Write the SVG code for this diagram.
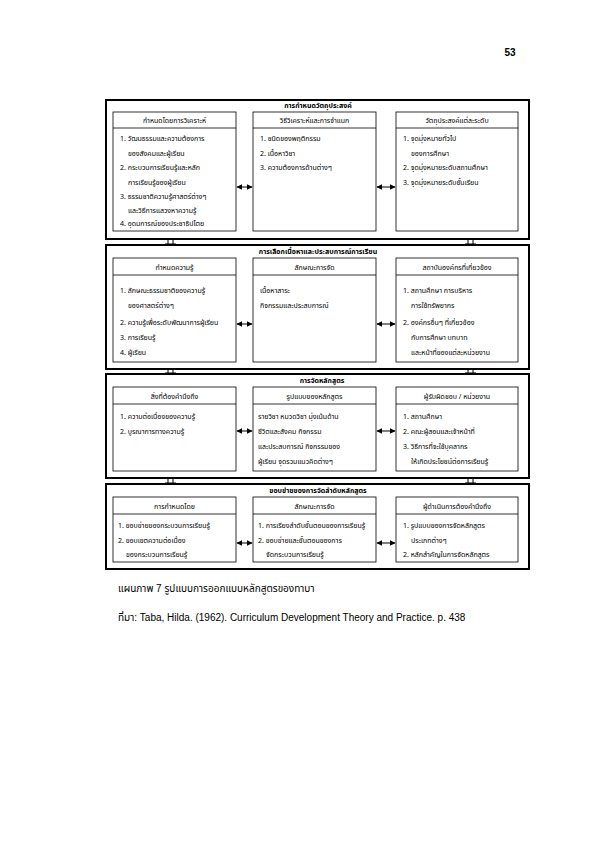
<svg xmlns="http://www.w3.org/2000/svg" width="595" height="842" viewBox="0 0 595 842">
<defs>
<style>
text{font-family:"Noto Sans Thai","Noto Sans","DejaVu Sans","Liberation Sans",sans-serif;fill:#000}
.sec{fill:#fff;stroke:#000;stroke-width:2}
.box{fill:#fff;stroke:#000;stroke-width:0.8}
.sep{stroke:#000;stroke-width:0.8}
.ttl{font-size:7px;font-weight:bold;text-anchor:middle}
.hdr{font-size:7px;text-anchor:middle}
.itm{font-size:7px}
.ar{stroke:#000;stroke-width:1;fill:none;marker-start:url(#ah);marker-end:url(#ah)}
.tk{stroke:#000;stroke-width:1;fill:none}
.cap{font-size:10px;font-family:"Liberation Sans","Noto Sans Thai",sans-serif}
</style>
<marker id="ah" viewBox="0 0 10 10" refX="9" refY="5" markerWidth="6" markerHeight="6" orient="auto-start-reverse" markerUnits="userSpaceOnUse"><path d="M0,0 L10,5 L0,10 z" fill="#000"/></marker>
</defs>
<rect width="595" height="842" fill="#fff"/>
<text x="510" y="56" style="font-size:10px;font-weight:bold;font-family:'Liberation Sans',sans-serif" text-anchor="middle">53</text>

<g id="sec1">
<rect class="sec" x="106" y="100" width="423" height="139"/>
<text class="ttl" x="318" y="108">การกำหนดวัตถุประสงค์</text>
</g>
<g id="s1b1">
<rect class="box" x="113" y="112" width="123" height="119"/><line class="sep" x1="113" y1="128" x2="236" y2="128"/>
<text class="hdr" x="174.5" y="123">กำหนดโดยการวิเคราะห์</text>
<text class="itm" x="120" y="141">1. วัฒนธรรมและความต้องการ</text>
<text class="itm" x="128" y="156">ของสังคมและผู้เรียน</text>
<text class="itm" x="120" y="170">2. กระบวนการเรียนรู้และหลัก</text>
<text class="itm" x="128" y="185">การเรียนรู้ของผู้เรียน</text>
<text class="itm" x="120" y="199">3. ธรรมชาติความรู้ศาสตร์ต่างๆ</text>
<text class="itm" x="128" y="213">และวิธีการแสวงหาความรู้</text>
<text class="itm" x="120" y="226">4. อุดมการณ์ของประชาธิปไตย</text>
</g>
<g id="s1b2">
<rect class="box" x="253" y="112" width="123" height="119"/><line class="sep" x1="253" y1="128" x2="376" y2="128"/>
<text class="hdr" x="314.5" y="123">วิธีวิเคราะห์และการจำแนก</text>
<text class="itm" x="260" y="141">1. ชนิดของพฤติกรรม</text>
<text class="itm" x="260" y="156">2. เนื้อหาวิชา</text>
<text class="itm" x="260" y="170">3. ความต้องการด้านต่างๆ</text>
</g>
<g id="s1b3">
<rect class="box" x="396" y="112" width="122" height="119"/><line class="sep" x1="396" y1="128" x2="518" y2="128"/>
<text class="hdr" x="457" y="123">วัตถุประสงค์แต่ละระดับ</text>
<text class="itm" x="403" y="141">1. จุดมุ่งหมายทั่วไป</text>
<text class="itm" x="411" y="156">ของการศึกษา</text>
<text class="itm" x="403" y="170">2. จุดมุ่งหมายระดับสถานศึกษา</text>
<text class="itm" x="403" y="185">3. จุดมุ่งหมายระดับชั้นเรียน</text>
</g>

<g id="sec2">
<rect class="sec" x="106" y="245" width="423" height="124"/>
<text class="ttl" x="318" y="254">การเลือกเนื้อหาและประสบการณ์การเรียน</text>
</g>
<g id="s2b1">
<rect class="box" x="113" y="258" width="123" height="104"/><line class="sep" x1="113" y1="275" x2="236" y2="275"/>
<text class="hdr" x="174.5" y="270">กำหนดความรู้</text>
<text class="itm" x="120" y="293">1. ลักษณะธรรมชาติของความรู้</text>
<text class="itm" x="128" y="308">ของศาสตร์ต่างๆ</text>
<text class="itm" x="120" y="325">2. ความรู้เพื่อระดับพัฒนาการผู้เรียน</text>
<text class="itm" x="120" y="340">3. การเรียนรู้</text>
<text class="itm" x="120" y="355">4. ผู้เรียน</text>
</g>
<g id="s2b2">
<rect class="box" x="253" y="258" width="123" height="104"/><line class="sep" x1="253" y1="275" x2="376" y2="275"/>
<text class="hdr" x="314.5" y="270">ลักษณะการจัด</text>
<text class="itm" x="260" y="293">เนื้อหาสาระ</text>
<text class="itm" x="260" y="308">กิจกรรมและประสบการณ์</text>
</g>
<g id="s2b3">
<rect class="box" x="396" y="258" width="122" height="104"/><line class="sep" x1="396" y1="275" x2="518" y2="275"/>
<text class="hdr" x="457" y="270">สถาบันองค์กรที่เกี่ยวข้อง</text>
<text class="itm" x="403" y="293">1. สถานศึกษา การบริหาร</text>
<text class="itm" x="411" y="308">การใช้ทรัพยากร</text>
<text class="itm" x="403" y="325">2. องค์กรอื่นๆ ที่เกี่ยวข้อง</text>
<text class="itm" x="411" y="340">กับการศึกษา บทบาท</text>
<text class="itm" x="411" y="355">และหน้าที่ของแต่ละหน่วยงาน</text>
</g>

<g id="sec3">
<rect class="sec" x="106" y="374" width="423" height="104"/>
<text class="ttl" x="322" y="383">การจัดหลักสูตร</text>
</g>
<g id="s3b1">
<rect class="box" x="113" y="387" width="123" height="84"/><line class="sep" x1="113" y1="404" x2="236" y2="404"/>
<text class="hdr" x="174.5" y="399">สิ่งที่ต้องคำนึงถึง</text>
<text class="itm" x="120" y="419">1. ความต่อเนื่องของความรู้</text>
<text class="itm" x="120" y="434">2. บูรณาการทางความรู้</text>
</g>
<g id="s3b2">
<rect class="box" x="253" y="387" width="123" height="84"/><line class="sep" x1="253" y1="404" x2="376" y2="404"/>
<text class="hdr" x="314.5" y="399">รูปแบบของหลักสูตร</text>
<text class="itm" x="258" y="419">รายวิชา หมวดวิชา มุ่งเน้นด้าน</text>
<text class="itm" x="258" y="434">ชีวิตและสังคม กิจกรรม</text>
<text class="itm" x="258" y="449">และประสบการณ์ กิจกรรมของ</text>
<text class="itm" x="258" y="464">ผู้เรียน จุดรวมแนวคิดต่างๆ</text>
</g>
<g id="s3b3">
<rect class="box" x="396" y="387" width="122" height="84"/><line class="sep" x1="396" y1="404" x2="518" y2="404"/>
<text class="hdr" x="457" y="399">ผู้รับผิดชอบ / หน่วยงาน</text>
<text class="itm" x="403" y="419">1. สถานศึกษา</text>
<text class="itm" x="403" y="434">2. คณะผู้สอนและเจ้าหน้าที่</text>
<text class="itm" x="403" y="449">3. วิธีการที่จะใช้บุคลากร</text>
<text class="itm" x="411" y="464">ให้เกิดประโยชน์ต่อการเรียนรู้</text>
</g>

<g id="sec4">
<rect class="sec" x="106" y="484" width="423" height="85"/>
<text class="ttl" x="318" y="493">ขอบข่ายของการจัดลำดับหลักสูตร</text>
</g>
<g id="s4b1">
<rect class="box" x="113" y="497" width="123" height="65"/><line class="sep" x1="113" y1="514" x2="236" y2="514"/>
<text class="hdr" x="174.5" y="509">การกำหนดโดย</text>
<text class="itm" x="118" y="528">1. ขอบข่ายของกระบวนการเรียนรู้</text>
<text class="itm" x="118" y="543">2. ขอบเขตความต่อเนื่อง</text>
<text class="itm" x="126" y="557">ของกระบวนการเรียนรู้</text>
</g>
<g id="s4b2">
<rect class="box" x="253" y="497" width="123" height="65"/><line class="sep" x1="253" y1="514" x2="376" y2="514"/>
<text class="hdr" x="314.5" y="509">ลักษณะการจัด</text>
<text class="itm" x="258" y="528">1. การเรียงลำดับขั้นตอนของการเรียนรู้</text>
<text class="itm" x="258" y="543">2. ขอบข่ายและขั้นตอนของการ</text>
<text class="itm" x="266" y="557">จัดกระบวนการเรียนรู้</text>
</g>
<g id="s4b3">
<rect class="box" x="396" y="497" width="122" height="65"/><line class="sep" x1="396" y1="514" x2="518" y2="514"/>
<text class="hdr" x="457" y="509">ผู้ดำเนินการต้องคำนึงถึง</text>
<text class="itm" x="403" y="528">1. รูปแบบของการจัดหลักสูตร</text>
<text class="itm" x="411" y="543">ประเภทต่างๆ</text>
<text class="itm" x="403" y="557">2. หลักสำคัญในการจัดหลักสูตร</text>
</g>

<g id="connectors">
<line class="ar" x1="237" y1="187" x2="252" y2="187"/>
<line class="ar" x1="377" y1="187" x2="395" y2="187"/>
<line class="ar" x1="237" y1="324" x2="252" y2="324"/>
<line class="ar" x1="377" y1="324" x2="395" y2="324"/>
<line class="ar" x1="237" y1="431" x2="252" y2="431"/>
<line class="ar" x1="377" y1="431" x2="395" y2="431"/>
<line class="ar" x1="237" y1="543" x2="252" y2="543"/>
<line class="ar" x1="377" y1="543" x2="395" y2="543"/>
<path class="tk" d="M168,239V245M173,239V245M165,244H176"/>
<path class="tk" d="M468,239V245M473,239V245M465,244H476"/>
<path class="tk" d="M168,369V374M173,369V374M165,373H176"/>
<path class="tk" d="M468,369V374M473,369V374M465,373H476"/>
<path class="tk" d="M168,478V484M173,478V484M165,483H176"/>
<path class="tk" d="M468,478V484M473,478V484M465,483H476"/>
</g>

<text class="cap" x="118" y="592">แผนภาพ  7  รูปแบบการออกแบบหลักสูตรของทาบา</text>
<text class="cap" x="118" y="621">ที่มา:  Taba, Hilda. (1962). Curriculum Development Theory and Practice. p. 438</text>
</svg>
